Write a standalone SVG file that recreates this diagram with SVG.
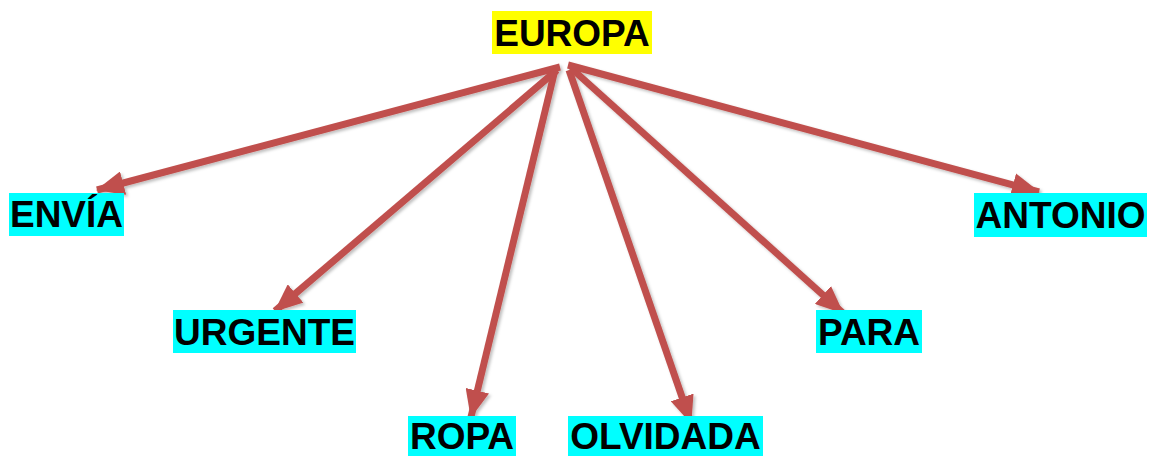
<svg xmlns="http://www.w3.org/2000/svg" width="1154" height="456" viewBox="0 0 1154 456">
<style>
.hl-y{fill:#FFFF00}
.hl-c{fill:#00FFFF}
.lbl{font-family:"Liberation Sans",Arial,sans-serif;font-weight:bold;font-size:37px;fill:#000}
.conn{stroke:#C0504D;stroke-width:7;fill:none;marker-end:url(#ah)}
</style>
<defs>
<marker id="ah" markerUnits="userSpaceOnUse" markerWidth="28" markerHeight="24" refX="27" refY="12" orient="auto">
<path d="M0,0 L28,12 L0,24 Z" fill="#C0504D"/>
</marker>
<filter id="sh" x="-10%" y="-10%" width="120%" height="120%">
<feDropShadow dx="2" dy="2" stdDeviation="1.5" flood-color="#000" flood-opacity="0.25"/>
</filter>
</defs>
<g id="connectors" filter="url(#sh)">
<line class="conn" x1="560" y1="67" x2="97" y2="190"/>
<line class="conn" x1="557" y1="70" x2="275" y2="311"/>
<line class="conn" x1="555" y1="70" x2="471" y2="417"/>
<line class="conn" x1="569" y1="70" x2="691" y2="423"/>
<line class="conn" x1="571" y1="68" x2="843" y2="313"/>
<line class="conn" x1="568" y1="65" x2="1039" y2="192"/>
</g>
<g id="europa">
<rect class="hl-y" x="492" y="11" width="160" height="43"/>
<text class="lbl" x="572" y="46" text-anchor="middle">EUROPA</text>
</g>
<g id="envia">
<rect class="hl-c" x="9" y="193" width="115" height="43"/>
<text class="lbl" x="66.5" y="227" text-anchor="middle">ENVÍA</text>
</g>
<g id="urgente">
<rect class="hl-c" x="173" y="310" width="183" height="43"/>
<text class="lbl" x="264.5" y="345" text-anchor="middle">URGENTE</text>
</g>
<g id="ropa">
<rect class="hl-c" x="408" y="416" width="108" height="40"/>
<text class="lbl" x="462" y="449" text-anchor="middle">ROPA</text>
</g>
<g id="olvidada">
<rect class="hl-c" x="568" y="416" width="195" height="40"/>
<text class="lbl" x="665.5" y="449" text-anchor="middle">OLVIDADA</text>
</g>
<g id="para">
<rect class="hl-c" x="816" y="310" width="106" height="43"/>
<text class="lbl" x="869" y="345" text-anchor="middle">PARA</text>
</g>
<g id="antonio">
<rect class="hl-c" x="974" y="193" width="173" height="44"/>
<text class="lbl" x="1060.5" y="228" text-anchor="middle">ANTONIO</text>
</g>
</svg>
